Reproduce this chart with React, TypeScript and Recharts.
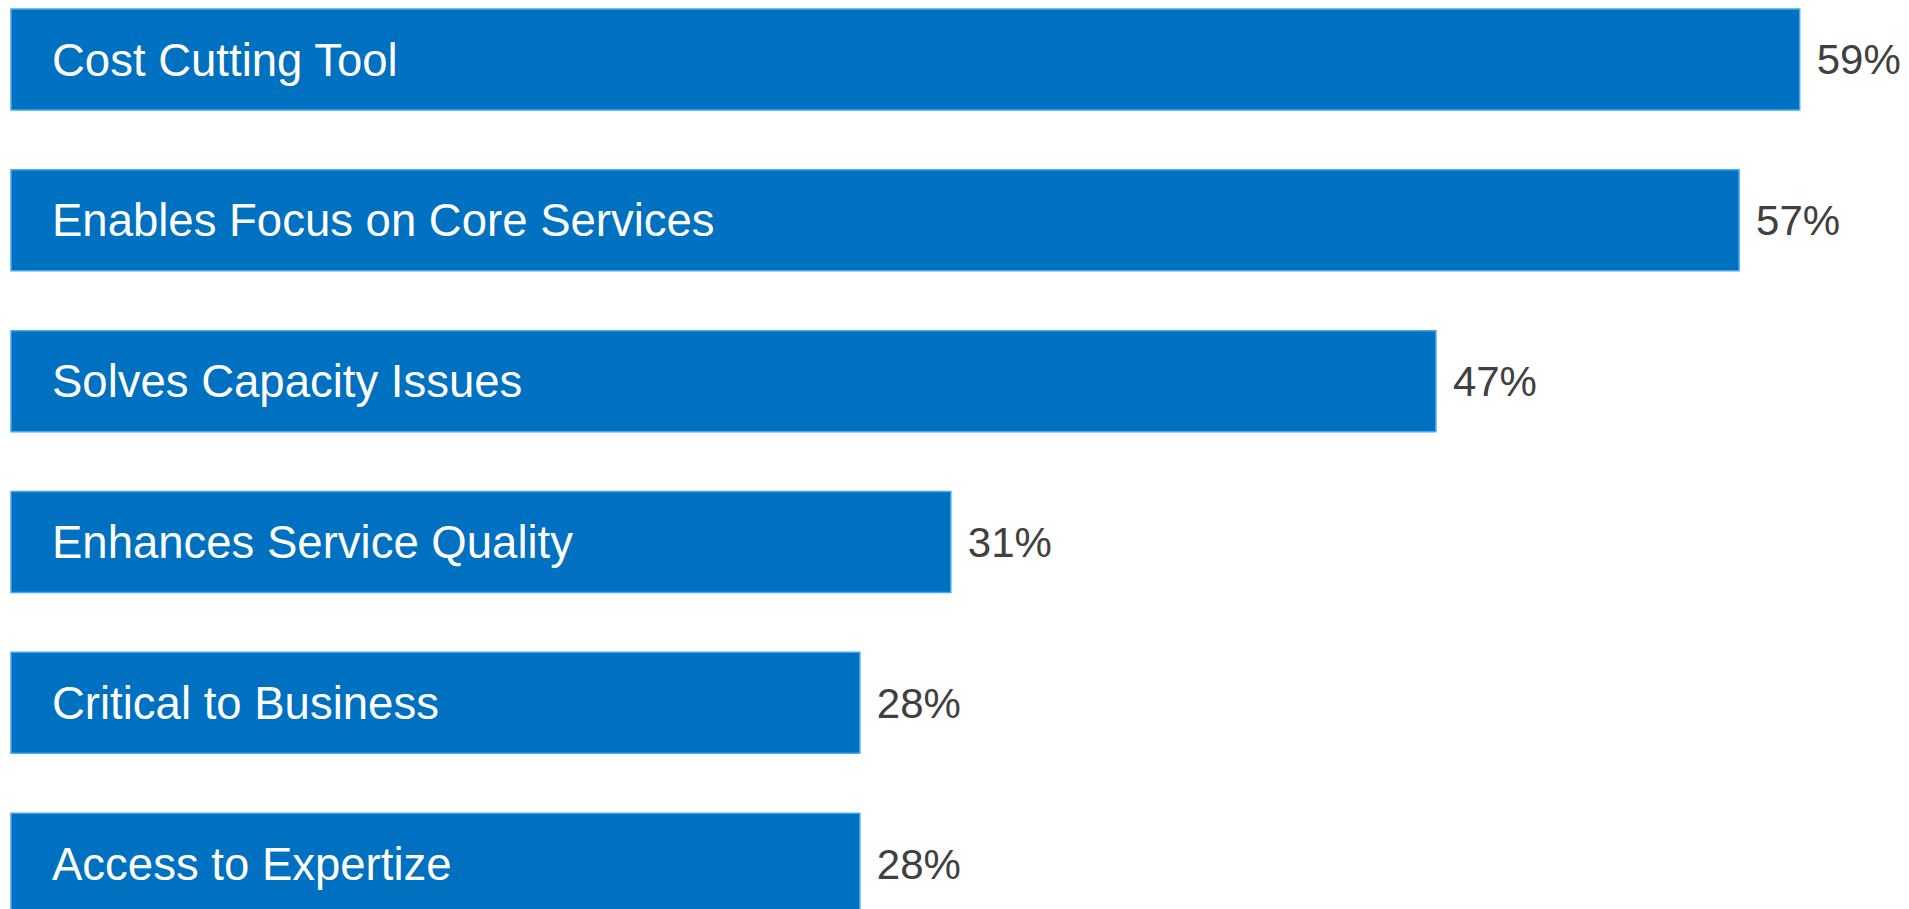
import { BarChart, Bar, XAxis, YAxis, LabelList } from "recharts";

const categories = [
  "Cost Cutting Tool",
  "Enables Focus on Core Services",
  "Solves Capacity Issues",
  "Enhances Service Quality",
  "Critical to Business",
  "Access to Expertize",
];
const values = [59, 57, 47, 31, 28, 28];

const data = categories.map((name, i) => ({ name, value: values[i] }));

const FONT = "'Liberation Sans', Arial, sans-serif";

const InsideName = (props: any) => {
  const { x, y, height, value } = props;
  return (
    <text
      x={x + 41}
      y={y + height / 2}
      dy="0.355em"
      fill="#ffffff"
      fontSize={45.5}
      fontFamily={FONT}
    >
      {value}
    </text>
  );
};

const App = () => {
  return (
    <div
      style={{
        position: "fixed",
        top: 0,
        left: 0,
        width: 1909,
        height: 909,
        overflow: "hidden",
        background: "#ffffff",
      }}
    >
      <div style={{ position: "absolute", top: -21, left: 0 }}>
        <BarChart
          width={1909}
          height={965}
          data={data}
          layout="vertical"
          barCategoryGap={30}
          margin={{ top: 0, right: 79, bottom: 0, left: 11 }}
        >
          <XAxis type="number" domain={[0, 60]} hide />
          <YAxis type="category" dataKey="name" hide />
          <Bar
            dataKey="value"
            fill="#0070C0"
            stroke="#45A8F0"
            strokeWidth={1.5}
            isAnimationActive={false}
          >
            <LabelList dataKey="name" content={<InsideName />} />
            <LabelList
              dataKey="value"
              position="right"
              offset={17}
              formatter={(v: any) => `${v}%`}
              fill="#404040"
              fontSize={42}
              fontFamily={FONT}
            />
          </Bar>
        </BarChart>
      </div>
    </div>
  );
};

export default App;
